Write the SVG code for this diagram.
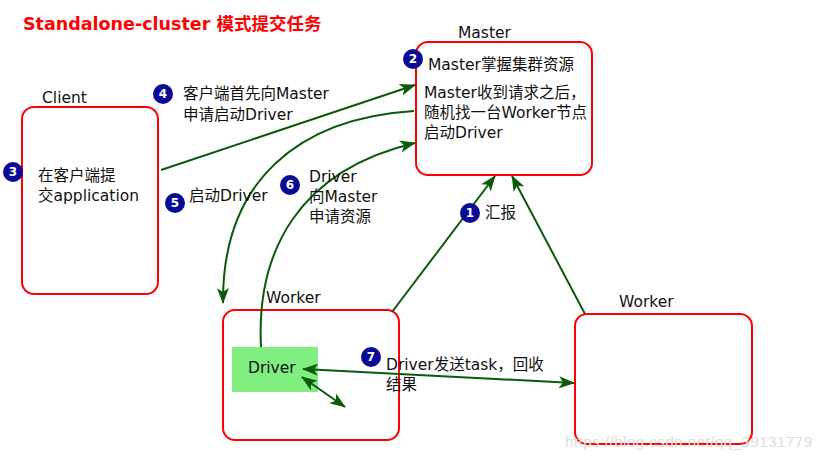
<svg xmlns="http://www.w3.org/2000/svg" width="821" height="463" viewBox="0 0 821 463">
<defs>
<style>
.box{fill:#fff;stroke:#ff0000;stroke-width:2}
.t{font-family:"DejaVu Sans","Noto Sans CJK SC",sans-serif;font-size:15.5px;fill:#111}
.title{font-family:"DejaVu Sans","Noto Sans CJK SC",sans-serif;font-size:17.5px;font-weight:bold;fill:#ff0000}
.badge circle{fill:#0a0a96}
.badge text{font-family:"DejaVu Sans",sans-serif;font-size:12px;font-weight:bold;fill:#fff;text-anchor:middle}
.c{fill:none;stroke:#0b5a0b;stroke-width:2}
.wm{font-family:"Liberation Sans",sans-serif;font-size:15px;fill:#dcdcdc}
</style>
<marker id="ah" markerUnits="userSpaceOnUse" markerWidth="16" markerHeight="12" refX="15" refY="6" orient="auto-start-reverse" viewBox="0 0 16 12">
<path d="M0,0 L16,6 L0,12 L4,6 Z" fill="#0b5a0b"/>
</marker>
</defs>
<rect width="821" height="463" fill="#fff"/>
<text class="title" x="23" y="30">Standalone-cluster 模式提交任务</text>

<g id="client">
<rect class="box" x="22" y="107" width="136" height="187" rx="12"/>
<text class="t" x="42" y="103">Client</text>
<text class="t" x="38" y="181">在客户端提</text>
<text class="t" x="38" y="201">交application</text>
</g>

<g id="master">
<rect class="box" x="416" y="42" width="176" height="133" rx="12"/>
<text class="t" x="458" y="38">Master</text>
<text class="t" x="428" y="70">Master掌握集群资源</text>
<text class="t" x="424" y="98">Master收到请求之后，</text>
<text class="t" x="424" y="118">随机找一台Worker节点</text>
<text class="t" x="424" y="138">启动Driver</text>
</g>

<g id="worker1">
<rect class="box" x="223" y="310" width="176" height="130" rx="12"/>
<text class="t" x="266" y="303">Worker</text>
</g>

<g id="driver">
<rect x="232" y="347" width="86" height="45" fill="#80ee80"/>
<text class="t" x="248" y="373">Driver</text>
</g>

<g id="worker2">
<rect class="box" x="575" y="314" width="177" height="130" rx="12"/>
<text class="t" x="619" y="307">Worker</text>
</g>

<g id="connectors">
<path class="c" d="M161,170 L415,85" marker-end="url(#ah)"/>
<path class="c" d="M414,111 C300,118 222,180 223,303" marker-end="url(#ah)"/>
<path class="c" d="M261,347 C256,250 300,170 415,143" marker-end="url(#ah)"/>
<path class="c" d="M392,312 L495,176" marker-end="url(#ah)"/>
<path class="c" d="M585,314 L512,176" marker-end="url(#ah)"/>
<path class="c" d="M303,369 L574,383" marker-start="url(#ah)" marker-end="url(#ah)"/>
<path class="c" d="M302,377 L345,407" marker-start="url(#ah)" marker-end="url(#ah)"/>
</g>

<g id="labels">
<g class="badge"><circle cx="163" cy="94" r="10"/><text x="163" y="98">4</text></g>
<text class="t" x="183" y="99">客户端首先向Master</text>
<text class="t" x="183" y="120">申请启动Driver</text>
<g class="badge"><circle cx="413" cy="59" r="10"/><text x="413" y="63">2</text></g>
<g class="badge"><circle cx="13" cy="172" r="10"/><text x="13" y="176">3</text></g>
<g class="badge"><circle cx="175" cy="203" r="10"/><text x="175" y="207">5</text></g>
<text class="t" x="189" y="201">启动Driver</text>
<g class="badge"><circle cx="290" cy="185" r="10"/><text x="290" y="189">6</text></g>
<text class="t" x="309" y="182">Driver</text>
<text class="t" x="309" y="202">向Master</text>
<text class="t" x="309" y="222">申请资源</text>
<g class="badge"><circle cx="470" cy="213" r="10"/><text x="470" y="217">1</text></g>
<text class="t" x="485" y="218">汇报</text>
<g class="badge"><circle cx="371" cy="357" r="10"/><text x="371" y="361">7</text></g>
<text class="t" x="386" y="370">Driver发送task，回收</text>
<text class="t" x="386" y="390">结果</text>
</g>
<text class="wm" x="565" y="447" textLength="247">https://blog.csdn.net/qq_39131779</text>
</svg>
